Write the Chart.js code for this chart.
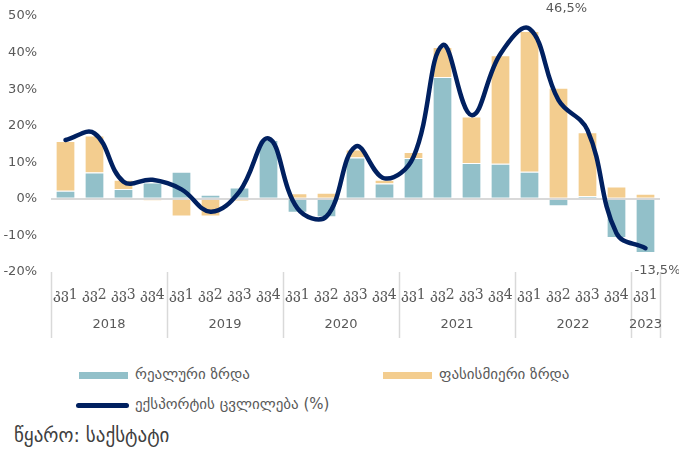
<!DOCTYPE html>
<html>
<head>
<meta charset="UTF-8">
<script src="https://cdn.jsdelivr.net/npm/chart.js@4.4.1/dist/chart.umd.min.js"></script>
<style>
  body { margin: 0; background: #fff; font-family: "DejaVu Sans", sans-serif; }
  #wrap { position: relative; width: 679px; height: 449px; }
  #chartBox { position: absolute; left: 0; top: 0; width: 679px; height: 345px; }
  .lg { position: absolute; font-size: 15px; color: #595959; white-space: nowrap; }
  .sw { position: absolute; }
  #src { position: absolute; left: 14px; top: 424px; font-size: 19px; color: #404040; }
</style>
</head>
<body>
<div id="wrap">
  <div id="chartBox"><canvas id="c"></canvas></div>
  <div class="sw" style="left:79px;top:372px;width:49px;height:7px;background:#92c0c9"></div>
  <div class="lg" style="left:135px;top:365px">რეალური ზრდა</div>
  <div class="sw" style="left:383px;top:372px;width:49px;height:7px;background:#f3cd8f"></div>
  <div class="lg" style="left:439px;top:365px">ფასისმიერი ზრდა</div>
  <div class="sw" style="left:76px;top:403px;width:53px;height:5px;background:#002060;border-radius:3px"></div>
  <div class="lg" style="left:135px;top:395px">ექსპორტის ცვლილება (%)</div>
  <div id="src">წყარო: საქსტატი</div>
</div>
<script>
// quarters and years on the two-level x axis
var quarters = ['კვ1','კვ2','კვ3','კვ4','კვ1','კვ2','კვ3','კვ4','კვ1','კვ2','კვ3','კვ4',
                'კვ1','კვ2','კვ3','კვ4','კვ1','კვ2','კვ3','კვ4','კვ1'];
var years = ['2018','2019','2020','2021','2022','2023'];
var yearSpan = [4, 4, 4, 4, 4, 1];

// series (%)
var realGrowth  = [2.2, 7.2, 2.7, 4.5, 7.4, 1.1, 3.1, 16.1, -3.8, -5.0, 11.3, 4.2,
                   11.2, 33.3, 9.8, 9.6, 7.4, -2.0, 0.7, -10.7, -14.8];
var priceGrowth = [13.6, 10.1, 2.5, -0.5, -4.8, -4.8, -0.6, 0, 1.5, 1.7, 2.2, 1.0,
                   1.6, 8.2, 12.7, 29.7, 38.5, 30.4, 17.5, 3.4, 1.4];
var exportChange = [16.1, 17.9, 4.7, 5.2, 2.6, -3.5, 2.0, 16.5, -2.6, -4.8, 14.3, 5.6,
                    11.5, 42.0, 22.9, 39.7, 46.5, 27.0, 18.8, -9.4, -13.5];
var labelled = [16, 20];

var labelOffsets = { 16: [37, -20], 20: [12, 22] };

var grey = '#595959';

var groupsPlugin = {
  id: 'groups',
  afterDraw: function(chart) {
    var ctx = chart.ctx, x = chart.scales.x, area = chart.chartArea;
    var step = x.getPixelForValue(1) - x.getPixelForValue(0);
    ctx.save();
    ctx.strokeStyle = '#d9d9d9';
    ctx.lineWidth = 1.5;
    var idx = 0;
    var edges = [idx];
    for (var i = 0; i < years.length; i++) { idx += yearSpan[i]; edges.push(idx); }
    edges.forEach(function(e) {
      var px = Math.round(x.getPixelForValue(e) - step / 2) + 0.5;
      ctx.beginPath();
      ctx.moveTo(px, area.bottom);
      ctx.lineTo(px, area.bottom + 66);
      ctx.stroke();
    });
    ctx.fillStyle = grey;
    ctx.font = '13px "DejaVu Sans", sans-serif';
    ctx.textAlign = 'center';
    ctx.textBaseline = 'middle';
    for (var j = 0; j < years.length; j++) {
      var a = x.getPixelForValue(edges[j]) - step / 2;
      var b = x.getPixelForValue(edges[j + 1]) - step / 2;
      ctx.fillText(years[j], (a + b) / 2, area.bottom + 53);
    }
    // value labels on the line
    var meta = chart.getDatasetMeta(0);
    labelled.forEach(function(k) {
      var pt = meta.data[k];
      var off = labelOffsets[k];
      var txt = String(exportChange[k]).replace('.', ',') + '%';
      ctx.fillText(txt, pt.x + off[0], pt.y + off[1]);
    });
    ctx.restore();
  }
};

new Chart(document.getElementById('c'), {
  type: 'bar',
  data: {
    labels: quarters,
    datasets: [
      {
        type: 'line',
        label: 'ექსპორტის ცვლილება (%)',
        data: exportChange,
        borderColor: '#002060',
        borderWidth: 4.5,
        pointRadius: 0,
        tension: 0.4,
        borderCapStyle: 'round',
        fill: false
      },
      {
        label: 'რეალური ზრდა',
        data: realGrowth,
        backgroundColor: '#92c0c9',
        borderColor: '#ffffff',
        borderWidth: 1,
        stack: 's'
      },
      {
        label: 'ფასისმიერი ზრდა',
        data: priceGrowth,
        backgroundColor: '#f3cd8f',
        borderColor: '#ffffff',
        borderWidth: 1,
        stack: 's'
      }
    ]
  },
  options: {
    responsive: true,
    maintainAspectRatio: false,
    animation: false,
    datasets: { bar: { barPercentage: 0.68, categoryPercentage: 1 } },
    layout: { padding: { top: 16, right: 19, left: 0, bottom: 0 } },
    plugins: { legend: { display: false }, tooltip: { enabled: false } },
    scales: {
      x: {
        stacked: true,
        grid: { display: false, drawTicks: false },
        border: { display: false },
        ticks: { color: grey, font: { size: 14, family: '"DejaVu Serif", serif' }, padding: 15, maxRotation: 0, autoSkip: false },
        afterFit: function(s) { s.height = 73; }
      },
      y: {
        stacked: true,
        min: -20,
        max: 50,
        ticks: {
          stepSize: 10,
          color: grey,
          font: { size: 13, family: '"DejaVu Sans", sans-serif' },
          padding: 14,
          callback: function(v) { return v + '%'; }
        },
        grid: {
          drawTicks: false,
          color: function(c) { return c.tick && c.tick.value === 0 ? '#d9d9d9' : 'rgba(0,0,0,0)'; },
          lineWidth: 2
        },
        border: { display: false },
        afterFit: function(s) { s.width = 51; s.paddingTop = 0; s.paddingBottom = 0; }
      }
    }
  },
  plugins: [groupsPlugin]
});
</script>
</body>
</html>
